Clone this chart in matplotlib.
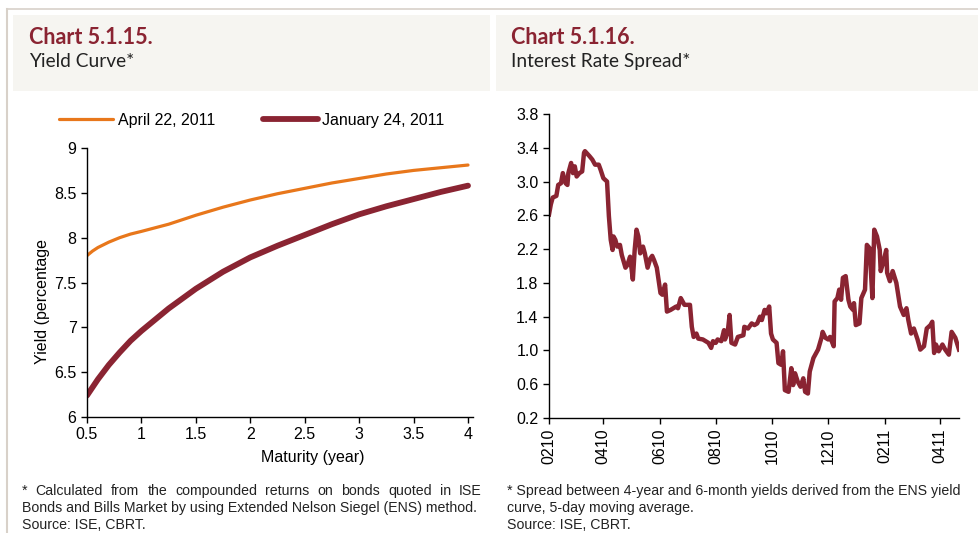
"""
Chart 5.1.15 (yield curve) and Chart 5.1.16 (interest rate spread).
"""
import matplotlib
matplotlib.use("Agg")
import matplotlib.pyplot as plt
import matplotlib.dates as mdates
from matplotlib.patches import Rectangle
from matplotlib.lines import Line2D
import pandas as pd

plt.rcParams["font.family"] = ["Liberation Sans", "DejaVu Sans"]

RED = "#8A2432"
ORANGE = "#E8771B"
FRAME = "#D8D1C9"
HEADER_BG = "#F6F5F1"

# ── Data: yield curves ───────────────────────────────────────────────────────
MATURITY = [0.5, 0.55, 0.6, 0.7, 0.8, 0.9, 1.0, 1.25, 1.5, 1.75, 2.0, 2.25, 2.5, 2.75,
            3.0, 3.25, 3.5, 3.75, 4.0]
YIELD_APR22 = [7.80, 7.85, 7.89, 7.95, 8.00, 8.04, 8.07, 8.15, 8.25, 8.34, 8.42, 8.49,
               8.55, 8.61, 8.66, 8.71, 8.75, 8.78, 8.81]
YIELD_JAN24 = [6.24, 6.33, 6.42, 6.58, 6.72, 6.85, 6.96, 7.21, 7.43, 7.62, 7.78, 7.91,
               8.03, 8.15, 8.26, 8.35, 8.43, 8.51, 8.58]

# ── Data: 4y - 6m spread (5-day moving average) ──────────────────────────────
SPREAD_DATES = [
    "2010-02-01", "2010-02-03", "2010-02-05", "2010-02-09", "2010-02-11", "2010-02-14",
    "2010-02-16", "2010-02-19", "2010-02-21", "2010-02-22", "2010-02-25", "2010-02-27",
    "2010-03-01", "2010-03-03", "2010-03-06", "2010-03-09", "2010-03-11", "2010-03-12",
    "2010-03-17", "2010-03-20", "2010-03-23", "2010-03-27", "2010-03-29", "2010-04-01",
    "2010-04-05", "2010-04-07", "2010-04-09", "2010-04-11", "2010-04-12", "2010-04-14",
    "2010-04-16", "2010-04-19", "2010-04-21", "2010-04-25", "2010-04-27", "2010-04-30",
    "2010-05-03", "2010-05-05", "2010-05-07", "2010-05-09", "2010-05-11", "2010-05-14",
    "2010-05-16", "2010-05-19", "2010-05-22", "2010-05-24", "2010-05-26", "2010-05-29",
    "2010-06-02", "2010-06-04", "2010-06-07", "2010-06-09", "2010-06-13", "2010-06-19",
    "2010-06-21", "2010-06-24", "2010-06-28", "2010-07-04", "2010-07-06", "2010-07-08",
    "2010-07-11", "2010-07-13", "2010-07-18", "2010-07-24", "2010-07-27", "2010-07-29",
    "2010-08-01", "2010-08-03", "2010-08-07", "2010-08-10", "2010-08-11", "2010-08-14",
    "2010-08-16", "2010-08-18", "2010-08-22", "2010-08-25", "2010-08-31", "2010-09-01",
    "2010-09-05", "2010-09-09", "2010-09-12", "2010-09-15", "2010-09-18", "2010-09-20",
    "2010-09-23", "2010-09-25", "2010-09-28", "2010-09-30", "2010-10-02", "2010-10-06",
    "2010-10-08", "2010-10-11", "2010-10-13", "2010-10-15", "2010-10-19", "2010-10-22",
    "2010-10-24", "2010-10-26", "2010-10-29", "2010-11-01", "2010-11-04", "2010-11-06",
    "2010-11-09", "2010-11-11", "2010-11-15", "2010-11-20", "2010-11-24", "2010-11-25",
    "2010-11-28", "2010-12-01", "2010-12-03", "2010-12-07", "2010-12-08", "2010-12-11",
    "2010-12-13", "2010-12-15", "2010-12-17", "2010-12-20", "2010-12-23", "2010-12-25",
    "2010-12-28", "2010-12-29", "2010-12-31", "2011-01-04", "2011-01-06", "2011-01-10",
    "2011-01-12", "2011-01-15", "2011-01-18", "2011-01-20", "2011-01-23", "2011-01-26",
    "2011-01-27", "2011-01-30", "2011-02-02", "2011-02-03", "2011-02-06", "2011-02-09",
    "2011-02-13", "2011-02-15", "2011-02-17", "2011-02-21", "2011-02-24", "2011-02-26",
    "2011-03-01", "2011-03-04", "2011-03-08", "2011-03-11", "2011-03-15", "2011-03-18",
    "2011-03-22", "2011-03-24", "2011-03-26", "2011-03-28", "2011-03-31", "2011-04-04",
    "2011-04-07", "2011-04-11", "2011-04-14", "2011-04-18", "2011-04-22",
]
SPREAD_VALUES = [
    2.61, 2.73, 2.81, 2.83, 2.96, 2.98,
    3.10, 2.98, 2.96, 3.10, 3.22, 3.10,
    3.18, 3.06, 3.10, 3.12, 3.34, 3.36,
    3.30, 3.26, 3.20, 3.20, 3.14, 3.04,
    3.00, 2.59, 2.31, 2.19, 2.35, 2.31,
    2.23, 2.25, 2.13, 1.98, 2.01, 2.11,
    1.84, 2.19, 2.43, 2.35, 2.15, 2.23,
    2.15, 1.98, 2.09, 2.12, 2.07, 1.98,
    1.68, 1.66, 1.78, 1.46, 1.48, 1.52,
    1.50, 1.62, 1.54, 1.54, 1.28, 1.16,
    1.20, 1.14, 1.13, 1.09, 1.03, 1.11,
    1.09, 1.13, 1.11, 1.24, 1.13, 1.22,
    1.42, 1.09, 1.07, 1.16, 1.18, 1.28,
    1.26, 1.32, 1.30, 1.32, 1.40, 1.36,
    1.48, 1.44, 1.52, 1.20, 1.13, 1.09,
    0.85, 0.83, 0.99, 0.53, 0.51, 0.79,
    0.59, 0.73, 0.63, 0.57, 0.67, 0.51,
    0.49, 0.75, 0.91, 1.01, 1.16, 1.22,
    1.15, 1.13, 1.16, 1.05, 1.58, 1.62,
    1.72, 1.60, 1.86, 1.88, 1.60, 1.52,
    1.48, 1.56, 1.30, 1.32, 1.62, 1.72,
    2.25, 2.21, 1.62, 2.43, 2.35, 2.19,
    1.94, 2.05, 2.19, 1.92, 1.82, 1.94,
    1.80, 1.66, 1.52, 1.42, 1.50, 1.36,
    1.20, 1.26, 1.13, 1.01, 1.05, 1.26,
    1.30, 1.34, 0.97, 1.07, 0.99, 1.07,
    1.01, 0.95, 1.22, 1.15, 1.01,
]
SPREAD_TICKS = ["2010-02-01", "2010-04-01", "2010-06-01", "2010-08-01",
                "2010-10-01", "2010-12-01", "2011-02-01", "2011-04-01"]

LEFT_NOTES = [
    "* Calculated from the compounded returns on bonds quoted in ISE",
    "Bonds and Bills Market by using Extended Nelson Siegel (ENS) method.",
    "Source: ISE, CBRT.",
]
RIGHT_NOTES = [
    "* Spread between 4-year and 6-month yields derived from the ENS yield",
    "curve, 5-day moving average.",
    "Source: ISE, CBRT.",
]

W, H = 979, 533


def fx(px):
    return px / W


def fy(py):
    return 1 - py / H


def style_axes(ax):
    for side in ("top", "right"):
        ax.spines[side].set_visible(False)
    for side in ("left", "bottom"):
        ax.spines[side].set_linewidth(1.0)
        ax.spines[side].set_color("black")
    ax.tick_params(direction="out", length=4, width=1.0, labelsize=11.5, colors="black")


def justified_line(fig, words, x0, x1, y, **kw):
    # spread the words of one line evenly between x0 and x1 (figure pixels)
    renderer = fig.canvas.get_renderer()
    texts = [fig.text(0, fy(y), w, va="baseline", **kw) for w in words]
    widths = [t.get_window_extent(renderer).width for t in texts]
    gap = (x1 - x0 - sum(widths)) / (len(words) - 1)
    x = x0
    for t, w in zip(texts, widths):
        t.set_x(fx(x))
        x += w + gap


fig = plt.figure(figsize=(W / 100, H / 100), dpi=100)

# ── Frame and header boxes ──────────────────────────────────────────────────
fig.add_artist(Line2D([fx(7), 1], [fy(9), fy(9)], color=FRAME, lw=1.2))
fig.add_artist(Line2D([fx(7.5), fx(7.5)], [fy(9), 0], color=FRAME, lw=1.5))
fig.patches.append(Rectangle((fx(13), fy(91)), fx(490) - fx(13), fy(15) - fy(91),
                             transform=fig.transFigure, facecolor=HEADER_BG, edgecolor="none"))
fig.patches.append(Rectangle((fx(496), fy(91)), 1 - fx(496), fy(15) - fy(91),
                             transform=fig.transFigure, facecolor=HEADER_BG, edgecolor="none"))

title_font = ["Lato", "DejaVu Sans"]
fig.text(fx(29), fy(44), "Chart 5.1.15.", color=RED, fontsize=15.5, fontweight="bold",
         family=title_font, va="baseline")
fig.text(fx(29), fy(67), "Yield Curve*", color="#222222", fontsize=13.8,
         family=title_font, va="baseline")
fig.text(fx(511), fy(44), "Chart 5.1.16.", color=RED, fontsize=15.5, fontweight="bold",
         family=title_font, va="baseline")
fig.text(fx(511), fy(67), "Interest Rate Spread*", color="#222222", fontsize=13.8,
         family=title_font, va="baseline")

# ── Chart 1: yield curve ───────────────────────────────────────────────────
ax1 = fig.add_axes([fx(87), fy(417), fx(473) - fx(87), fy(148) - fy(417)])
ax1.plot(MATURITY, YIELD_APR22, color=ORANGE, lw=2.3, label="April 22, 2011",
         solid_capstyle="round", solid_joinstyle="round")
ax1.plot(MATURITY, YIELD_JAN24, color=RED, lw=4.2, label="January 24, 2011",
         solid_capstyle="round", solid_joinstyle="round")
ax1.set_xlim(0.5, 4.046)
ax1.set_ylim(6, 9)
ax1.set_xticks([0.5, 1, 1.5, 2, 2.5, 3, 3.5, 4])
ax1.set_xticklabels(["0.5", "1", "1.5", "2", "2.5", "3", "3.5", "4"])
ax1.set_yticks([6, 6.5, 7, 7.5, 8, 8.5, 9])
ax1.set_yticklabels(["6", "6.5", "7", "7.5", "8", "8.5", "9"])
style_axes(ax1)
ax1.set_xlabel("Maturity (year)", fontsize=11.5)
ax1.xaxis.set_label_coords((313 - 87) / 386, (417 - 450) / 269)
ax1.set_ylabel("Yield (percentage", fontsize=11.5)
ax1.yaxis.set_label_coords((50 - 87) / 386, (417 - 302) / 269)
ax1.legend(loc="center left", bbox_to_anchor=(fx(59), fy(120)),
           bbox_transform=fig.transFigure, ncol=2, frameon=False, fontsize=11.5,
           handlelength=3.4, handletextpad=0.3, columnspacing=3.0,
           borderpad=0, borderaxespad=0)

# ── Chart 2: interest rate spread ──────────────────────────────────────────
spread = pd.Series(SPREAD_VALUES, index=pd.to_datetime(SPREAD_DATES))
ax2 = fig.add_axes([fx(549), fy(418), fx(959) - fx(549), fy(114) - fy(418)])
ax2.plot(spread.index, spread.values, color=RED, lw=3.2, solid_joinstyle="round")
ax2.set_xlim(pd.Timestamp("2010-02-01"), pd.Timestamp("2011-04-22"))
ax2.set_ylim(0.2, 3.8)
ax2.set_yticks([0.2, 0.6, 1.0, 1.4, 1.8, 2.2, 2.6, 3.0, 3.4, 3.8])
ax2.yaxis.set_major_formatter(plt.FormatStrFormatter("%.1f"))
ax2.set_xticks(pd.to_datetime(SPREAD_TICKS))
ax2.xaxis.set_major_formatter(mdates.DateFormatter("%m%y"))
style_axes(ax2)
ax2.tick_params(axis="x", labelrotation=90)

# ── Footnotes ───────────────────────────────────────────────────────────────
note_kw = dict(fontsize=10.2, family=["Liberation Sans", "DejaVu Sans"], color="#222222")
baselines = [495, 512, 529]
justified_line(fig, LEFT_NOTES[0].split(" "), 22, 482, baselines[0], **note_kw)
for line, y in zip(LEFT_NOTES[1:], baselines[1:]):
    fig.text(fx(22), fy(y), line, va="baseline", **note_kw)
for line, y in zip(RIGHT_NOTES, baselines):
    fig.text(fx(507), fy(y), line, va="baseline", **note_kw)

fig.savefig("out.png", dpi=100)
